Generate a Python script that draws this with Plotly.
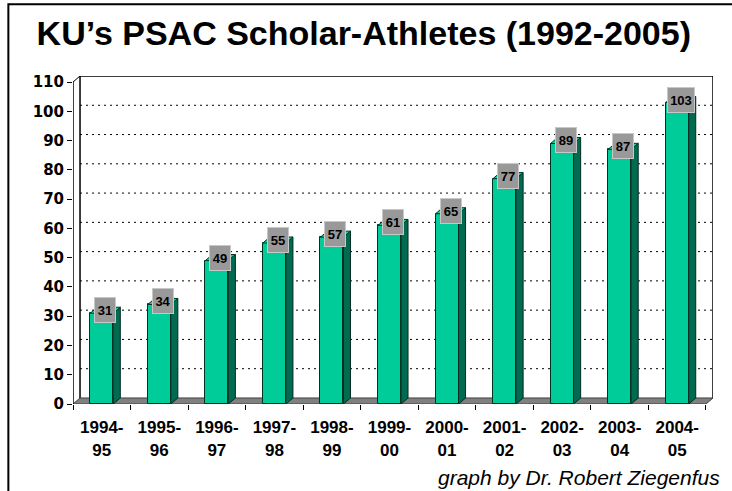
import plotly.graph_objects as go

seasons = ["1994-95", "1995-96", "1996-97", "1997-98", "1998-99", "1999-00",
           "2000-01", "2001-02", "2002-03", "2003-04", "2004-05"]
tick_labels = ["1994-<br>95", "1995-<br>96", "1996-<br>97", "1997-<br>98", "1998-<br>99",
               "1999-<br>00", "2000-<br>01", "2001-<br>02", "2002-<br>03", "2003-<br>04",
               "2004-<br>05"]
athletes = [31, 34, 49, 55, 57, 61, 65, 77, 89, 87, 103]
y_ticks = list(range(0, 111, 10))

# styling
FRONT = "#00CC99"
SIDE = "#006B50"
TOP = "#00D9A3"
BW = 0.4          # bar width (category units)
DX = 0.122        # depth offset x (category units)
DY = 2.06         # depth offset y (value units)
YMAX = 110
n = len(athletes)
xs = list(range(n))
x0, x1 = -0.5, n - 0.5

fig = go.Figure()

shapes = []
# back wall gridlines (dotted)
for v in y_ticks[1:-1]:
    shapes.append(dict(type="line", xref="x", yref="y", x0=x0 + DX, x1=x1 + DX,
                       y0=v + DY, y1=v + DY, layer="below",
                       line=dict(color="black", width=1, dash="2px,4px")))
# wall outline
shapes.append(dict(type="path", xref="x", yref="y", layer="below",
                   path=f"M {x0+DX} {DY} L {x0+DX} {YMAX+DY} L {x1+DX} {YMAX+DY} L {x1+DX} {DY}",
                   line=dict(color="black", width=1.5)))
shapes.append(dict(type="line", xref="x", yref="y", layer="below",
                   x0=x0, y0=YMAX, x1=x0 + DX, y1=YMAX + DY, line=dict(color="black", width=1)))
# floor
shapes.append(dict(type="path", xref="x", yref="y", layer="below",
                   path=f"M {x0} 0 L {x1} 0 L {x1+DX} {DY} L {x0+DX} {DY} Z",
                   fillcolor="#808080", line=dict(color="#404040", width=1)))
# y axis line
shapes.append(dict(type="line", xref="x", yref="y", layer="below",
                   x0=x0, y0=0, x1=x0, y1=YMAX, line=dict(color="black", width=1.5)))
# frame around whole chart
shapes.append(dict(type="path", xref="paper", yref="paper",
                   path="M -0.101 -0.3 L -0.101 1.219 L 1.05 1.219",
                   line=dict(color="black", width=2)))

fig.add_trace(go.Bar(x=xs, y=athletes, width=BW, marker=dict(color=FRONT, line=dict(color="#003322", width=1)),
                     hoverinfo="skip", showlegend=False))

# side and top faces
for i, v in zip(xs, athletes):
    r = i + BW / 2
    l = i - BW / 2
    fig.add_trace(go.Scatter(x=[r, r + DX, r + DX, r, r], y=[0, DY, v + DY, v, 0],
                             fill="toself", fillcolor=SIDE, mode="lines",
                             line=dict(color="#002a1f", width=1), hoverinfo="skip", showlegend=False))
    fig.add_trace(go.Scatter(x=[l, r, r + DX, l + DX, l], y=[v, v, v + DY, v + DY, v],
                             fill="toself", fillcolor=TOP, mode="lines",
                             line=dict(color="#003322", width=1), hoverinfo="skip", showlegend=False))

# invisible trace for boundary tick axis
fig.add_trace(go.Scatter(x=[x0], y=[0], xaxis="x2", mode="markers", marker=dict(opacity=0),
                         hoverinfo="skip", showlegend=False))

annotations = []
for i, v in zip(xs, athletes):
    annotations.append(dict(x=i + DX / 2, y=v + DY / 2, xref="x", yref="y", text=f"<b>{v}</b>",
                            showarrow=False, bgcolor="#999999", bordercolor="#c8c8c8", borderwidth=1,
                            width=18 if v < 100 else 24, height=22,
                            font=dict(family="Liberation Sans Narrow, Liberation Sans", size=13, color="black")))
annotations.append(dict(x=1.014, y=-0.2256, xref="paper", yref="paper", xanchor="right", yanchor="middle",
                        text="<i>graph by Dr. Robert Ziegenfus</i>", showarrow=False,
                        font=dict(family="Liberation Sans", size=21, color="black")))

fig.update_layout(
    width=732, height=491,
    margin=dict(l=73, r=19, t=76, b=87),
    paper_bgcolor="white", plot_bgcolor="white",
    title=dict(text="<b>KU’s PSAC Scholar-Athletes (1992-2005)</b>", x=0.05, xanchor="left",
               y=0.932, yanchor="middle",
               font=dict(family="Liberation Sans", size=34, color="black")),
    xaxis=dict(range=[x0, x1 + DX], tickvals=xs, ticktext=[f"<b>{t}</b>" for t in tick_labels],
               showgrid=False, zeroline=False, showline=False,
               ticks="outside", ticklen=8, tickcolor="rgba(0,0,0,0)",
               tickfont=dict(family="Liberation Sans", size=17, color="black")),
    xaxis2=dict(range=[x0, x1 + DX], overlaying="x", anchor="y", side="bottom",
                tickvals=[k - 0.5 for k in range(n + 1)], showticklabels=False,
                ticks="outside", ticklen=5, tickcolor="black", showgrid=False, zeroline=False, showline=False),
    yaxis=dict(range=[0, YMAX + DY], tickvals=y_ticks, ticktext=[f"<b>{t}</b>" for t in y_ticks],
               showgrid=False, zeroline=False, showline=False,
               ticks="outside", ticklen=5, tickcolor="black",
               tickfont=dict(family="DejaVu Sans", size=15, color="black")),
    shapes=shapes,
    annotations=annotations,
    bargap=0,
)

fig.write_html("out.html", config={"displayModeBar": False},
               post_script="document.body.style.margin='0';document.body.style.overflow='hidden';")
